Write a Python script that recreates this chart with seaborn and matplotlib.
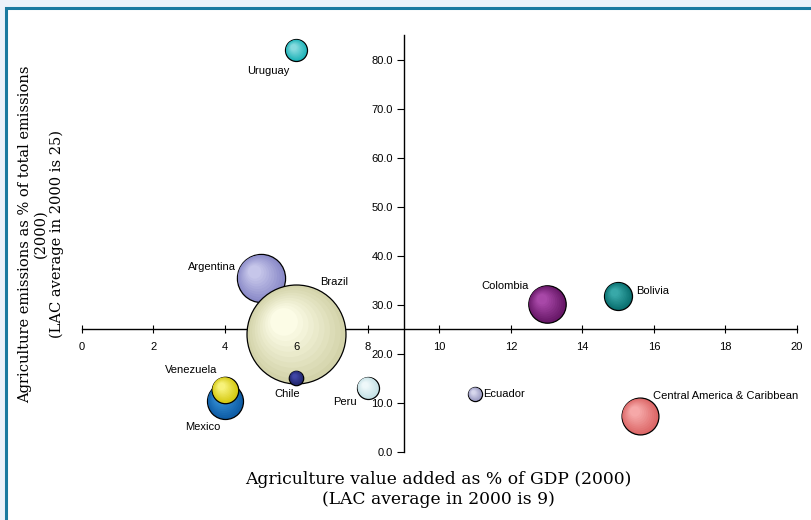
import numpy as np
import pandas as pd
import seaborn as sns
import matplotlib
matplotlib.use("Agg")
import matplotlib.pyplot as plt
from matplotlib.patches import Rectangle
from matplotlib.transforms import offset_copy
from matplotlib.colors import to_rgb

# ---------------- data ----------------
countries = ["Argentina", "Uruguay", "Mexico", "Venezuela", "Brazil", "Chile",
             "Peru", "Ecuador", "Colombia", "Bolivia", "Central America & Caribbean"]
agri_gdp = [5.0, 6.0, 4.0, 4.0, 6.0, 6.0, 8.0, 11.0, 13.0, 15.0, 15.6]
agri_emis = [35.5, 82.0, 10.4, 12.7, 24.0, 15.1, 13.1, 11.8, 30.2, 31.8, 7.3]
bubble_value = [580, 121, 324, 175, 2450, 52, 121, 50, 350, 196, 340]
x_ticks = [0, 2, 4, 6, 8, 10, 12, 14, 16, 18, 20]
y_ticks = [0, 10, 20, 30, 40, 50, 60, 70, 80]

# ---------------- styles ----------------
base_colors = ["#8a8ac8", "#1fb4b9", "#0f5da6", "#d6ca12", "#d3d3aa", "#22276e",
               "#c6e2e6", "#9a9ac2", "#681868", "#0a7070", "#dc6868"]
light_colors = ["#c6c6ea", "#86dade", "#3590d6", "#f7f27a", "#fcfce6", "#4046a6",
                "#eef8fa", "#d6d6ec", "#a848a8", "#38a8a8", "#f6a8a8"]
# label offsets in points (dx, dy) and alignment
label_off = [(-18, 8, "right"), (-20, -15, "center"), (-16, -19, "center"),
             (-24.5, 14.5, "center"), (27, 38, "center"), (-6.5, -11.5, "center"),
             (-16.5, -10, "center"), (6, 0, "left"), (-30, 13, "center"),
             (13, 3.5, "left"), (9.5, 14.5, "left")]

df = pd.DataFrame({"country": countries, "x": agri_gdp, "y": agri_emis,
                   "v": bubble_value})

sns.set_theme(style="white")
plt.rcParams["font.family"] = ["Liberation Sans", "DejaVu Sans"]
plt.rcParams["text.color"] = "black"

W, H = 812, 520
fig = plt.figure(figsize=(W / 100, H / 100), dpi=100)
fig.patch.set_facecolor("#ebf2fa")
# white panel with teal border
panel = Rectangle((6 / W, -0.05), 1.2, (H - 8) / H + 0.05,
                  transform=fig.transFigure, facecolor="white",
                  edgecolor="#1a7aa0", linewidth=2.2, zorder=-10)
fig.patches.append(panel)

ax = fig.add_axes([82 / W, (H - 452) / H, 715 / W, 417 / H])
ax.set_zorder(1)
ax.set_facecolor("none")
ax.set_xlim(0, 20)
ax.set_ylim(0, 85.1)

vmax = max(bubble_value)
smax = 2.0736 * vmax

for i, row in df.iterrows():
    sub = df.iloc[[i]]
    r_pt = np.sqrt(2.0736 * row["v"]) / 2.0  # radius in points
    base = np.array(to_rgb(base_colors[i]))
    light = np.array(to_rgb(light_colors[i]))
    sns.scatterplot(data=sub, x="x", y="y", size="v", sizes=(0, smax),
                    size_norm=(0, vmax), color=base_colors[i], edgecolor="black",
                    linewidth=0.9, legend=False, ax=ax, zorder=3 + i * 0.01)
    n = 10
    for k in range(1, n):
        f = 1 - k / n * 0.8
        c = base + (light - base) * (k / (n - 1))
        off = (1 - f) * r_pt * 0.35
        tr = offset_copy(ax.transData, fig=fig, x=-off, y=off, units="points")
        ax.scatter([row["x"]], [row["y"]], s=2.0736 * row["v"] * f * f,
                   color=[tuple(c)], edgecolor="none", linewidth=0,
                   transform=tr, zorder=3 + i * 0.01 + 0.001 * k)
    dx, dy, ha = label_off[i]
    ax.annotate(row["country"], (row["x"], row["y"]), xytext=(dx, dy),
                textcoords="offset points", ha=ha, va="center", fontsize=8,
                color="black", zorder=5)

# crossing axes at LAC averages
for s in ["top", "right"]:
    ax.spines[s].set_visible(False)
ax.spines["left"].set_position(("data", 9))
ax.spines["bottom"].set_position(("data", 25))
for s in ["left", "bottom"]:
    ax.spines[s].set_color("black")
    ax.spines[s].set_linewidth(1.0)
    ax.spines[s].set_zorder(1)

ax.set_xticks(x_ticks)
ax.set_xticklabels([str(t) for t in x_ticks])
ax.set_yticks(y_ticks)
ax.set_yticklabels([f"{t:.1f}" for t in y_ticks])
ax.tick_params(axis="x", direction="inout", length=6, width=0.8, labelsize=8,
               pad=6, colors="black", bottom=True)
ax.tick_params(axis="y", direction="out", length=5, width=0.8, labelsize=8,
               pad=3, colors="black", left=True)
ax.xaxis.set_zorder(6)
ax.yaxis.set_zorder(6)
# the tick mark under the Brazil bubble is hidden by the bubble in the original
for t in ax.xaxis.get_major_ticks():
    if abs(t.get_loc() - 6) < 1e-9:
        t.tick1line.set_visible(False)
ax.set_xlabel("")
ax.set_ylabel("")

fig.text(438 / W, 1 - 479 / H, "Agriculture value added as % of GDP (2000)",
         family="DejaVu Serif", fontsize=12.3, ha="center", va="center",
         color="black")
fig.text(438 / W, 1 - 499 / H, "(LAC average in 2000 is 9)",
         family="DejaVu Serif", fontsize=12.3, ha="center", va="center",
         color="black")
fig.text(41 / W, 1 - 234 / H,
         "Agriculture emissions as % of total emissions\n(2000)\n(LAC average in 2000 is 25)",
         family="DejaVu Serif", fontsize=10.5, ha="center", va="center",
         rotation=90, multialignment="center", linespacing=1.15, color="black")

fig.savefig("out.png", dpi=100, facecolor=fig.get_facecolor())
